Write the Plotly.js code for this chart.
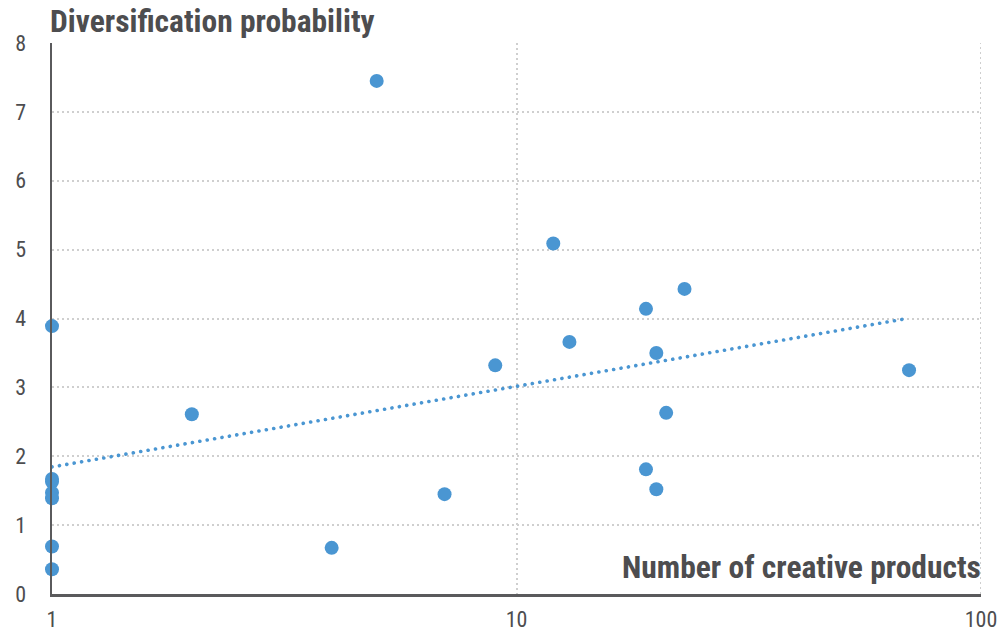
<!DOCTYPE html>
<html>
<head>
<meta charset="utf-8">
<script src="https://cdn.plot.ly/plotly-3.0.1.min.js"></script>
<style>
html,body{margin:0;padding:0;background:#fff;}
#chart{width:1006px;height:632px;}
#chart .scatterlayer .trace:first-child .js-line{stroke-linecap:round !important;}
</style>
</head>
<body>
<div id="chart"></div>
<script>
// Number of creative products (x) and diversification probability (y)
var products = [1, 1, 1, 1, 1, 1, 1, 2, 4, 5, 7, 9, 12, 13, 19, 19, 20, 20, 21, 23, 70];
var probability = [3.89, 1.67, 1.63, 1.47, 1.39, 0.69, 0.36, 2.61, 0.67, 7.45, 1.45, 3.32, 5.09, 3.66, 4.14, 1.81, 3.50, 1.52, 2.63, 4.43, 3.25];
var xTickVals = [1, 10, 100];
var xTickText = ['1', '10', '100'];
var yTickVals = [0, 1, 2, 3, 4, 5, 6, 7, 8];

var titleText = 'Diversification probability';
var xTitleText = 'Number of creative products';

// logarithmic trend line fitted to the data: y = a + b ln(x)
var n = products.length, su = 0, sy = 0, suu = 0, suy = 0;
for (var i = 0; i < n; i++) {
  var u = Math.log(products[i]);
  su += u; sy += probability[i]; suu += u * u; suy += u * probability[i];
}
var b = (n * suy - su * sy) / (n * suu - su * su);
var a = (sy - b * su) / n;
var xMin = Math.min.apply(null, products), xMax = Math.max.apply(null, products);
var trendX = [xMin, xMax];
var trendY = trendX.map(function (x) { return a + b * Math.log(x); });

var FONT = '"Roboto Condensed", Roboto, sans-serif';
var TXT = '#4d4d4f';
var BLUE = '#4a96d2';
var GRID = '#cfcfcf';
var xEdge = xTickVals[xTickVals.length - 1];
var yEdge = yTickVals[yTickVals.length - 1];

var data = [
  {
    x: trendX, y: trendY, type: 'scatter', mode: 'lines',
    line: {color: BLUE, width: 3.6, dash: '0.1px,7.4px'},
    hoverinfo: 'skip', cliponaxis: false
  },
  {
    x: products, y: probability, type: 'scatter', mode: 'markers',
    marker: {color: BLUE, size: 14, line: {width: 0}},
    cliponaxis: false
  }
];

var layout = {
  width: 1006, height: 632,
  margin: {l: 52, r: 25, t: 43, b: 38},
  paper_bgcolor: '#ffffff', plot_bgcolor: '#ffffff',
  showlegend: false,
  font: {family: FONT, color: TXT},
  title: {
    text: '<b>' + titleText + '</b>',
    font: {family: FONT, size: 31.5, color: TXT},
    x: 0, xref: 'paper', xanchor: 'left', pad: {l: -2},
    y: 1 - 21 / 632, yref: 'container', yanchor: 'middle'
  },
  xaxis: {
    type: 'log', range: [0, 2],
    tickvals: xTickVals, ticktext: xTickText,
    showgrid: true, gridcolor: GRID, gridwidth: 2, griddash: '2px,3px',
    zeroline: false,
    showline: true, linecolor: '#5a5a5c', linewidth: 2.5,
    ticks: '', ticklabelstandoff: 4,
    tickfont: {family: FONT, size: 22, color: TXT},
    layer: 'above traces'
  },
  yaxis: {
    range: [0, 8], tickvals: yTickVals,
    showgrid: true, gridcolor: GRID, gridwidth: 2, griddash: '2px,3px',
    zeroline: false,
    showline: true, linecolor: '#5a5a5c', linewidth: 2.5,
    ticks: '', ticklabelstandoff: 19,
    tickfont: {family: FONT, size: 22, color: TXT},
    layer: 'above traces'
  },
  shapes: [
    {
      type: 'line', xref: 'x', yref: 'y', layer: 'below',
      x0: xEdge, x1: xEdge, y0: 0, y1: yEdge,
      line: {color: GRID, width: 2, dash: '2px,3px'}
    }
  ],
  annotations: [
    {
      text: '<b>' + xTitleText + '</b>',
      xref: 'paper', yref: 'paper', x: 1, y: 0,
      xanchor: 'right', yanchor: 'bottom', yshift: 6, xshift: 2,
      showarrow: false,
      font: {family: FONT, size: 31.5, color: TXT}
    }
  ]
};

Plotly.newPlot('chart', data, layout, {displayModeBar: false, staticPlot: true});
</script>
</body>
</html>
